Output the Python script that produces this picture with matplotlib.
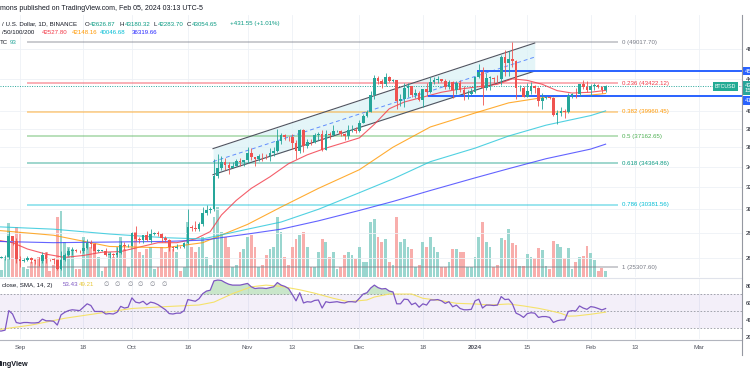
#!/usr/bin/env python3
"""
BTC/USD daily chart (TradingView style) with SMA ribbon, fib levels,
parallel channel, volume and RSI pane.
"""

import numpy as np
import pandas as pd
import matplotlib
matplotlib.use('Agg')
import matplotlib.pyplot as plt
import matplotlib.dates as mdates
import matplotlib.transforms as mtransforms
from matplotlib.lines import Line2D
from matplotlib.ticker import FixedLocator, NullLocator, FixedFormatter

W, H = 750, 375
FONT = ['Liberation Sans', 'DejaVu Sans']
plt.rcParams['font.family'] = FONT

# ---------------- data ----------------
DATES = pd.date_range('2023-08-26', '2024-02-05', freq='D')
FIRST_OPEN = 26060

CLOSE = [
    26010, 26090, 26110, 27720, 27300, 25940,
    25800, 25870, 25970, 25820, 25780, 25750, 26240, 25910, 25900, 25840,
    25160, 25840, 26220, 26530, 26600, 26570, 26530, 26760, 27210, 27130,
    26570, 26580, 26580, 26250, 26300, 26220, 26370, 27030, 26910, 26970,
    27990, 27500, 27430, 27790, 27410, 27930, 27960, 27920, 27590, 27390,
    26870, 26760, 26860, 26850, 27150, 28500, 28400, 28330, 28720, 29670,
    29910, 29990, 33070, 33900, 34500, 34150, 33890, 34090, 34540, 34480, 34640,
    35420, 34940, 34730, 35080, 35050, 35040, 35420, 35620, 36690, 37310,
    37130, 37060, 36480, 35550, 37880, 36160, 36600, 36570, 37360, 37450,
    35750, 37420, 37290, 37720, 37800, 37450, 37240, 37820, 37850, 37710,
    38690, 39460, 39970, 41990, 44080, 43770, 43290, 44170, 43730, 43790,
    41240, 41480, 42890, 43020, 41940, 42260, 41370, 42660, 42270, 43650,
    43860, 43990, 43740, 43010, 43580, 42520, 43440, 42580, 42070, 42140, 42280,
    44180, 44950, 42850, 44150, 44160, 43970, 43930, 46970, 46110, 46630,
    46340, 42780, 42840, 41730, 42510, 43140, 42770, 41260, 41620, 41660,
    41570, 39510, 39840, 40080, 39940, 41810, 42120, 42030, 43300, 42940, 42580,
    43080, 43190, 43000, 42626.87, 43054.65,
]
HIGH = [
    26130, 26180, 26250, 28140, 27760, 27580,
    26140, 25990, 26120, 26090, 25880, 26050, 26450, 26430, 25950, 26010,
    25880, 26560, 26390, 26810, 26840, 26670, 26630, 27410, 27490, 27380,
    27170, 26730, 26640, 26740, 26430, 26390, 26820, 27310, 27230, 27090,
    28060, 28580, 27670, 27840, 28120, 28290, 28030, 28110, 27990, 27730,
    27480, 26950, 27100, 26960, 27290, 30000, 28620, 28980, 28920, 30220,
    30350, 30200, 34740, 35280, 35130, 34840, 34470, 34480, 34800, 34880, 34720,
    35970, 35950, 34940, 35270, 35380, 35280, 35890, 35990, 37970, 37530,
    37400, 37240, 37420, 36770, 37980, 37930, 36850, 36860, 37500, 37650,
    37850, 37860, 37650, 38420, 37900, 37820, 37560, 38390, 38430, 38170,
    38960, 39680, 40200, 42420, 44490, 44300, 44000, 44700, 44370, 44040,
    43800, 42130, 43440, 43430, 43100, 42720, 42430, 42760, 43490, 44280,
    44230, 44400, 44020, 43950, 43790, 43670, 43670, 43800, 43130, 42600, 42890,
    44200, 45900, 45500, 44790, 44350, 44200, 44490, 47250, 47900, 47700,
    49017.70, 46500, 43260, 43080, 43400, 43580, 43200, 42930, 42200, 41870,
    41880, 41680, 40130, 40530, 40280, 42220, 42200, 42840, 43310, 43880, 43740,
    43290, 43480, 43380, 43120, 43180.32,
]
LOW = [
    25980, 25970, 25860, 25920, 27030, 25660,
    25330, 25730, 25810, 25600, 25570, 25380, 25620, 25650, 25800, 25580,
    25080, 25130, 25760, 26130, 26220, 26470, 26400, 26380, 26680, 26790,
    26360, 26480, 26510, 26130, 25990, 26090, 26110, 26340, 26660, 26890,
    26950, 27320, 27160, 27210, 27340, 27170, 27860, 27700, 27270, 27290,
    26540, 26560, 26690, 26810, 26810, 27110, 28110, 28150, 28170, 28600,
    29460, 29660, 29890, 32860, 33700, 33700, 33320, 33870, 34040, 34060, 34060,
    34320, 34720, 34100, 34570, 34520, 34730, 34530, 35070, 35530, 36330,
    36740, 36700, 35830, 34800, 35360, 35510, 35880, 36200, 36400, 36730,
    35630, 35740, 36860, 37250, 37600, 37150, 36750, 36880, 37600, 37490,
    37630, 38650, 39280, 39970, 41410, 43340, 42850, 43050, 43590, 43560,
    40220, 40670, 40560, 41700, 41660, 41640, 41250, 40500, 41800, 42210,
    43280, 43400, 43590, 42760, 42730, 41580, 42100, 42320, 41300, 41520, 41980,
    42180, 44150, 40750, 42620, 42560, 43400, 43600, 43190, 44300, 44350,
    45600, 41500, 42430, 41720, 41720, 42050, 42180, 40680, 40280, 41500,
    41500, 39450, 38550, 39480, 39260, 39830, 41640, 41620, 41800, 42680, 42280,
    41880, 42580, 42880, 42230, 42283.70,
]
VOLUME = [
    6, 7, 20, 54, 35, 50,
    45, 10, 8, 15, 18, 20, 22, 25, 6, 12, 60, 66, 35, 30, 28, 8, 8, 40, 35, 30,
    32, 20, 6, 10, 25, 20, 30, 40, 28, 10,
    35, 45, 25, 22, 28, 30, 8, 10, 30, 25, 35, 28, 25, 6, 10, 55, 30, 25, 30, 40,
    20, 12, 60, 70, 45, 40, 30, 10, 12, 25, 28,
    40, 42, 30, 10, 12, 22, 28, 30, 60, 45, 20, 12, 30, 38, 42, 45, 30, 10, 10, 25,
    38, 35, 20, 25, 8, 10, 22, 25, 22, 18,
    30, 15, 15, 55, 58, 40, 35, 38, 15, 12, 60, 35, 38, 30, 28, 10, 12, 35, 30, 40,
    30, 25, 10, 10, 15, 28, 28, 25, 25, 10, 10,
    20, 40, 55, 35, 30, 10, 12, 39, 37, 48, 34, 32, 11, 11, 23, 20, 19, 29, 27, 11,
    8, 36, 33, 30, 19, 29, 8, 15, 20, 21, 31,
    24, 17, 6, 9, 6,
]
RSI = [
    27, 27, 28, 51, 47, 37,
    36, 37, 37, 36.5, 36.5, 37, 41, 39, 39, 38.5, 34, 46, 49, 51, 52, 51.5, 51,
    55, 59, 57, 50, 50, 50, 47, 47.5, 47, 49, 56, 54, 55,
    66, 61, 60, 62, 58, 61, 60, 58, 55, 52, 47.5, 47, 48, 48, 51, 64, 63, 62, 65,
    71, 74, 75, 86, 87, 86.5, 84, 82, 81, 81, 81, 82,
    83, 79, 77, 77.5, 77.5, 77, 78, 79, 84, 81, 79.5, 77, 70, 62.5, 72, 60, 61.5,
    61, 63, 63.5, 54, 61.5, 60.5, 61, 61.5, 60.5, 60, 61.5, 61.5, 61,
    65.5, 70.5, 72, 77.5, 81, 78, 76.5, 77, 74, 73, 59, 59, 64.5, 64, 58, 60, 55,
    59, 57.5, 63.5, 63.5, 64, 62.5, 59.5, 61.5, 55.5, 57.5, 53.5, 52, 52, 52.5,
    62.5, 64.5, 54, 57.5, 57.5, 57, 57.5, 67.5, 64, 64.5, 59, 48, 46, 43, 47.5,
    48.5, 48, 43, 44, 44, 43, 37, 39, 40, 40, 50, 51, 50.5, 56.5, 54, 52.5,
    55.7, 55, 53.5, 51.8, 53.43,
]

RSI_MA_DATES = ['2023-08-26', '2023-09-04', '2023-09-13', '2023-09-22', '2023-10-01',
                '2023-10-10', '2023-10-19', '2023-10-23', '2023-10-28', '2023-11-02',
                '2023-11-06', '2023-11-10', '2023-11-15', '2023-11-19', '2023-11-24',
                '2023-11-28', '2023-12-03', '2023-12-05', '2023-12-09', '2023-12-15',
                '2023-12-18', '2023-12-23', '2023-12-27', '2024-01-01', '2024-01-05',
                '2024-01-10', '2024-01-14', '2024-01-18', '2024-01-21', '2024-01-24',
                '2024-01-26', '2024-01-28', '2024-02-01', '2024-02-05']
RSI_MA = [28.5, 34, 42, 47.8, 53.5, 55.7, 57.6, 61, 71, 79, 81, 79.5, 75.5, 71.5,
          65.5, 61.5, 63.5, 67, 70.5, 70.5, 65.5, 62.7, 59.6, 58.8, 57.6, 58.8,
          56.5, 53.7, 51, 47.8, 44.5, 44.7, 46.7, 49.21]

# moving averages (sampled along the lines)
MA20_DATES = ['2023-08-26', '2023-08-30', '2023-09-03', '2023-09-08', '2023-09-13',
              '2023-09-18', '2023-09-23', '2023-09-28', '2023-10-03', '2023-10-08',
              '2023-10-13', '2023-10-18', '2023-10-22', '2023-10-25', '2023-10-29',
              '2023-11-02', '2023-11-07', '2023-11-12', '2023-11-17', '2023-11-22',
              '2023-11-27', '2023-12-01', '2023-12-05', '2023-12-09', '2023-12-13',
              '2023-12-18', '2023-12-23', '2023-12-28', '2024-01-02', '2024-01-07',
              '2024-01-11', '2024-01-15', '2024-01-19', '2024-01-23', '2024-01-27',
              '2024-02-01', '2024-02-05']
MA20 = [27400, 27200, 26700, 26300, 26050, 26200, 26450, 26500, 26850, 27200,
        27200, 27500, 28100, 29500, 30800, 31900, 33000, 34300, 35200, 35900,
        36500, 37000, 38500, 40300, 41100, 41700, 42300, 42700, 43000, 43300,
        44000, 43800, 43300, 42500, 42200, 42300, 42527.80]

MA_SLOW_DATES = ['2023-08-26', '2023-09-10', '2023-09-25', '2023-10-10', '2023-10-20',
                 '2023-11-01', '2023-11-10', '2023-11-20', '2023-12-01', '2023-12-10',
                 '2023-12-20', '2024-01-01', '2024-01-10', '2024-01-20', '2024-02-01',
                 '2024-02-05']
MA50 = [28200, 27800, 26900, 26800, 27200, 28700, 30200, 31900, 33700, 36000,
        38200, 39800, 41000, 41700, 41950, 42148.16]
MA100 = [28500, 28300, 27900, 27600, 27500, 28300, 28900, 30000, 31500, 32800,
         34500, 35900, 37200, 38400, 39500, 40046.68]
MA200 = [27300, 27200, 27250, 27300, 27400, 27900, 28300, 29000, 29900, 30700,
         31700, 32900, 33800, 34800, 35800, 36319.66]

FIB_RATIOS = [0, 0.236, 0.382, 0.5, 0.618, 0.786, 1]
FIB_PRICES = [49017.70, 43422.12, 39960.45, 37162.65, 34364.86, 30381.56, 25307.60]
FIB_COLORS = ['#787b86', '#f23645', '#ff9800', '#4caf50', '#089981', '#00bcd4', '#787b86']
FIB_START, FIB_END, FIB_LABEL_AT = '2023-09-03', '2024-02-08 08:00', '2024-02-09 12:00'

CHANNEL_DATES = ['2023-10-22 18:00', '2024-01-17']
CHANNEL_UPPER = [35850, 48870]
CHANNEL_LOWER = [33210, 45010]

LEVEL_PRICES = [45000, 41850]
LEVEL_STARTS = ['2024-01-01 12:00', '2023-12-19 10:00']
LAST_PRICE = 43054.65

PRICE_TICKS = [24000, 26000, 28000, 30000, 32000, 34000, 36000, 38000, 40000, 44000, 48000]
RSI_TICKS = [20, 40, 60, 80]

TIME_TICKS = ['2023-09-01', '2023-09-18', '2023-10-01', '2023-10-16', '2023-11-01',
              '2023-11-13', '2023-12-01', '2023-12-18', '2024-01-01', '2024-01-15',
              '2024-02-01', '2024-02-13', '2024-03-01']
TIME_LABELS = ['Sep', '18', 'Oct', '16', 'Nov', '13', 'Dec', '18', '2024', '15',
               'Feb', '13', 'Mar']

# ---------------- style ----------------
UP, DOWN = '#26a69a', '#ef5350'
UP_VOL, DOWN_VOL = '#9ad6cf', '#f8aeac'
GRID = '#eef1f6'
TEXT = '#131722'
FS = 4.4


def rect(x0, y0, x1, y1):
    """pixel box -> figure fraction"""
    return [x0 / W, 1 - y1 / H, (x1 - x0) / W, (y1 - y0) / H]


def fig_text(fig, x, y, s, **kw):
    kw.setdefault('fontsize', FS)
    kw.setdefault('color', TEXT)
    kw.setdefault('va', 'center')
    fig.text(x / W, 1 - y / H, s, **kw)


def d(s):
    return mdates.date2num(pd.Timestamp(s))


def main():
    fig = plt.figure(figsize=(W / 100, H / 100), dpi=100)
    fig.patch.set_facecolor('white')

    sep1 = d('2023-09-01')
    x_left = sep1 - 20 / 3.73
    x_right = x_left + 742 / 3.73

    ax_vol = fig.add_axes(rect(0, 15, 742, 277))
    ax = fig.add_axes(rect(0, 15, 742, 277), sharex=ax_vol)
    ax_rsi = fig.add_axes(rect(0, 279, 742, 339), sharex=ax_vol)
    ax.patch.set_visible(False)

    x = mdates.date2num(DATES)
    close = np.array(CLOSE, dtype=float)
    opens = np.array([FIRST_OPEN] + CLOSE[:-1], dtype=float)
    high = np.array(HIGH, dtype=float)
    low = np.array(LOW, dtype=float)
    up = close >= opens

    # grid (time)
    tick_x = [d(t) for t in TIME_TICKS]
    for a in (ax_vol, ax_rsi):
        for tx in tick_x:
            a.axvline(tx, color=GRID, lw=0.6, zorder=0)

    # volume
    ax_vol.bar(x, VOLUME, width=0.75, color=np.where(up, UP_VOL, DOWN_VOL), lw=0, zorder=1)
    ax_vol.set_ylim(0, 262)
    ax_vol.set_xlim(x_left, x_right)
    ax_vol.axis('off')

    # price pane
    ax.set_yscale('log')
    ax.set_ylim(24594, 53063)
    ax.yaxis.set_major_locator(FixedLocator(PRICE_TICKS))
    ax.yaxis.set_major_formatter(FixedFormatter([f'{p:.2f}' for p in PRICE_TICKS]))
    ax.yaxis.set_minor_locator(NullLocator())
    ax.yaxis.tick_right()
    ax.tick_params(axis='y', length=0, pad=2.5, labelsize=FS, labelcolor=TEXT)
    ax.tick_params(axis='x', length=0, labelbottom=False)
    for p in PRICE_TICKS:
        ax.axhline(p, color=GRID, lw=0.6, zorder=0)
    for s in ax.spines.values():
        s.set_visible(False)

    # fib levels
    for r, p, c in zip(FIB_RATIOS, FIB_PRICES, FIB_COLORS):
        ax.hlines(p, d(FIB_START), d(FIB_END), color=c, lw=1.1, alpha=0.5, zorder=2)
        ax.text(d(FIB_LABEL_AT), p, f'{r:g} ({p:.2f})', color=c, fontsize=FS,
                va='center', ha='left')

    # parallel channel
    cx = [d(t) for t in CHANNEL_DATES]
    ax.fill_between(cx, CHANNEL_LOWER, CHANNEL_UPPER, color='#d9f1f6', alpha=0.7, lw=0, zorder=1)
    ax.plot(cx, CHANNEL_UPPER, color='#505460', lw=0.8, zorder=3)
    ax.plot(cx, CHANNEL_LOWER, color='#505460', lw=0.8, zorder=3)
    mid = np.sqrt(np.array(CHANNEL_UPPER) * np.array(CHANNEL_LOWER))
    ax.plot(cx, mid, color='#2962ff', lw=0.7, ls=(0, (4, 3)), alpha=0.7, zorder=3)

    # moving averages
    ax.plot([d(t) for t in MA20_DATES], MA20, color='#f23645', lw=0.8, alpha=0.8, zorder=3)
    slow_x = [d(t) for t in MA_SLOW_DATES]
    ax.plot(slow_x, MA50, color='#ff9800', lw=0.8, alpha=0.8, zorder=3)
    ax.plot(slow_x, MA100, color='#26c6da', lw=0.8, alpha=0.8, zorder=3)
    ax.plot(slow_x, MA200, color='#3d3dff', lw=0.8, alpha=0.8, zorder=3)

    # horizontal levels
    for p, st in zip(LEVEL_PRICES, LEVEL_STARTS):
        ax.hlines(p, d(st), x_right, color='#2962ff', lw=1.4, zorder=3)
    ax.axhline(LAST_PRICE, color='#26a69a', lw=0.7, ls=(0, (1, 1.5)), zorder=2)

    # candles
    colors = np.where(up, UP, DOWN)
    ax.vlines(x, low, high, colors=colors, lw=0.6, zorder=4)
    body = np.maximum(np.abs(close - opens), close * 0.0008)
    ax.bar(x, body, bottom=np.minimum(opens, close), width=0.72, color=colors, lw=0, zorder=5)
    ax.set_xlim(x_left, x_right)

    # price scale labels
    blend = mtransforms.blended_transform_factory(ax.transAxes, ax.transData)
    box = dict(boxstyle='square,pad=0.3', ec='none')
    ax.annotate(f'{LEVEL_PRICES[0]:.2f}', (1.004, LEVEL_PRICES[0]), xycoords=blend,
                color='white', fontsize=FS, va='center', ha='left', annotation_clip=False,
                bbox=dict(box, fc='#2962ff'))
    ax.annotate(f'{LEVEL_PRICES[1]:.2f}', (1.004, LEVEL_PRICES[1]), xycoords=blend,
                xytext=(0, -3.5), textcoords='offset points',
                color='white', fontsize=FS, va='center', ha='left', annotation_clip=False,
                bbox=dict(box, fc='#2962ff'))
    ax.annotate(f'{LAST_PRICE:.2f}\n15:46:52', (1.004, LAST_PRICE), xycoords=blend,
                xytext=(0, -1.5), textcoords='offset points', linespacing=1.1,
                color='white', fontsize=FS, va='center', ha='left', annotation_clip=False,
                bbox=dict(box, fc='#26a69a'))
    ax.annotate('BTCUSD', (715 / 742, LAST_PRICE), xycoords=blend, color='white',
                fontsize=3.8, va='center', ha='left',
                bbox=dict(boxstyle='square,pad=0.35', fc='#22ab94', ec='none'))

    # RSI pane
    rx = x
    rsi = np.array(RSI, dtype=float)
    ax_rsi.set_ylim(17.6, 88.2)
    ax_rsi.axhspan(30, 70, color='#7e57c2', alpha=0.09, lw=0, zorder=0)
    for lvl in (70, 50, 30):
        ax_rsi.axhline(lvl, color='#9598a1', lw=0.6, ls=(0, (2, 2)), zorder=1)
    ax_rsi.fill_between(rx, 70, rsi, where=rsi > 70, interpolate=True,
                        color='#4caf50', alpha=0.3, lw=0, zorder=1)
    ax_rsi.plot([d(t) for t in RSI_MA_DATES], RSI_MA, color='#f5e26b', lw=0.8, zorder=2)
    ax_rsi.plot(rx, rsi, color='#7e57c2', lw=0.9, zorder=3)
    ax_rsi.set_xlim(x_left, x_right)
    ax_rsi.yaxis.tick_right()
    ax_rsi.yaxis.set_major_locator(FixedLocator(RSI_TICKS))
    ax_rsi.yaxis.set_major_formatter(FixedFormatter([f'{v:.2f}' for v in RSI_TICKS]))
    ax_rsi.tick_params(axis='y', length=0, pad=2.5, labelsize=FS, labelcolor=TEXT)
    ax_rsi.xaxis.set_major_locator(FixedLocator(tick_x))
    ax_rsi.xaxis.set_major_formatter(FixedFormatter(TIME_LABELS))
    ax_rsi.tick_params(axis='x', length=0, pad=4, labelsize=FS + 0.2, labelcolor='#50535e')
    ax_rsi.get_xticklabels()[TIME_LABELS.index('2024')].set_fontweight('bold')
    for s in ax_rsi.spines.values():
        s.set_visible(False)

    # frame lines
    fig.add_artist(Line2D([0, 742 / W], [1 - 278 / H] * 2, color='#e0e3eb', lw=0.8))
    fig.add_artist(Line2D([0, 742 / W], [1 - 339.5 / H] * 2, color='#b2b5be', lw=0.8))
    fig.add_artist(Line2D([742 / W] * 2, [1 - 15 / H, 1 - 355 / H], color='#9598a1', lw=0.8))

    # header texts
    fig_text(fig, 0, 8, 'mons published on TradingView.com, Feb 05, 2024 03:13 UTC-5', fontsize=5)
    fig_text(fig, 2, 24, '/ U.S. Dollar, 1D, BINANCE')
    for lx, letter, val in [(85, 'O', '42626.87'), (120, 'H', '43180.32'),
                            (153, 'L', '42283.70'), (187, 'C', '43054.65')]:
        fig_text(fig, lx, 24, letter)
        fig_text(fig, lx + 5, 24, val, color='#089981')
    fig_text(fig, 230, 24, '+431.55 (+1.01%)', color='#089981')
    fig_text(fig, 2, 33, '/50/100/200')
    for lx, val, c in [(42, '42527.80', '#f23645'), (72, '42148.16', '#ff9800'),
                       (100, '40046.68', '#00bcd4'), (132, '36319.66', '#2424ff')]:
        fig_text(fig, lx, 33, val, color=c)
    fig_text(fig, 0, 42, 'TC')
    fig_text(fig, 10, 42, '93', color='#26a69a')

    # RSI header
    fig_text(fig, 2, 285, 'close, SMA, 14, 2)')
    fig_text(fig, 63, 285, '53.43', color='#7e57c2')
    fig_text(fig, 79, 285, '49.21', color='#e8c93a')
    for lx in (103, 115, 127, 138, 150, 162):
        fig_text(fig, lx, 285, '\u2205', color='#787b86')

    fig_text(fig, -3, 365, 'dingView', fontsize=5.2, fontweight='bold')

    fig.savefig('out.png', dpi=100)
    plt.close(fig)


if __name__ == '__main__':
    main()
